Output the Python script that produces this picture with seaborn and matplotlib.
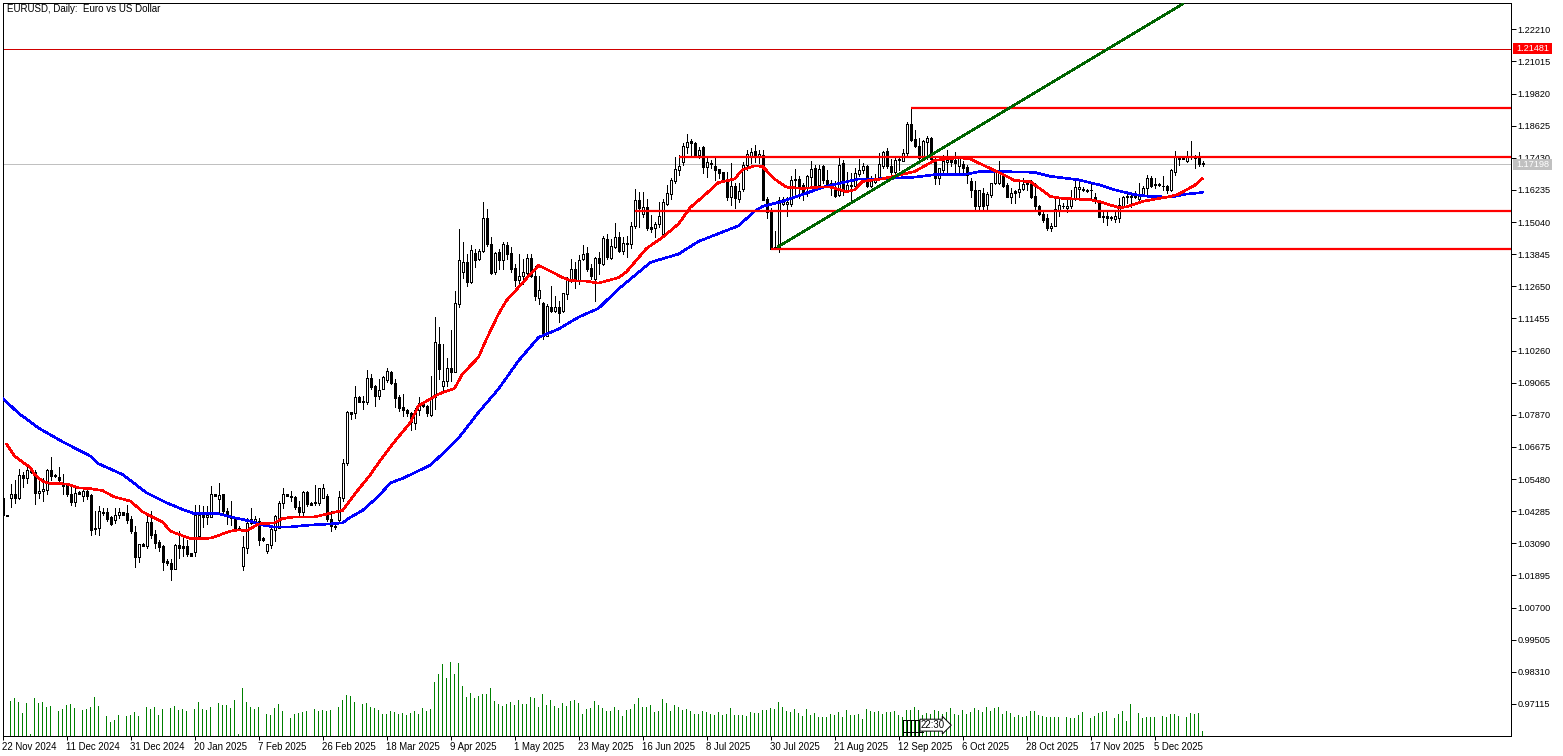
import numpy as np
import matplotlib
matplotlib.use("Agg")
import matplotlib.pyplot as plt
from matplotlib.patches import Rectangle
import seaborn as sns

# Prices in pips (1 pip = 0.0001), one entry per daily bar
open_pips = [
10478,10415,10476,10491,10478,10563,10550,10577,10575,10497,
10505,10509,10581,10564,10555,10530,10525,10493,10463,10499,
10483,10505,10488,10363,10364,10427,10425,10406,10396,10416,
10424,10421,10398,10352,10259,10307,10298,10388,10342,10314,
10298,10243,10235,10214,10301,10298,10297,10271,10277,10336,
10414,10406,10406,10493,10474,10491,10429,10404,10404,10367,
10225,10292,10401,10391,10391,10327,10280,10302,10360,10367,
10460,10491,10484,10481,10445,10425,10499,10458,10462,10457,
10478,10484,10401,10375,10396,10478,10607,10796,10794,10852,
10838,10836,10923,10893,10856,10883,10915,10945,10905,10852,
10815,10804,10794,10757,10804,10830,10821,10786,10852,11050,
10895,10913,10960,10947,11200,11319,11354,11282,11389,11367,
11396,11518,11422,11317,11394,11364,11420,11389,11332,11290,
11305,11315,11369,11302,11223,11202,11079,11187,11174,11187,
11174,11238,11290,11328,11290,11367,11389,11332,11292,11369,
11348,11441,11369,11410,11447,11395,11425,11422,11488,11585,
11534,11561,11484,11481,11497,11460,11572,11609,11658,11696,
11729,11782,11805,11797,11754,11782,11708,11723,11713,11700,
11689,11661,11596,11638,11591,11626,11717,11750,11769,11748,
11754,11589,11550,11403,11411,11572,11572,11572,11659,11664,
11642,11634,11671,11705,11643,11713,11661,11651,11634,11606,
11723,11622,11643,11639,11684,11696,11713,11637,11654,11668,
11711,11767,11711,11692,11738,11730,11761,11870,11813,11788,
11742,11800,11816,11738,11668,11696,11726,11736,11736,11711,
11721,11707,11655,11624,11562,11612,11568,11606,11649,11649,
11674,11642,11599,11618,11617,11627,11644,11649,11602,11565,
11535,11519,11480,11488,11550,11565,11555,11562,11592,11627,
11627,11624,11622,11599,11575,11527,11525,11521,11515,11519,
11565,11597,11602,11602,11589,11606,11630,11668,11644,11644,
11639,11639,11622,11692,11738,11742,11730,11751,11748,11742,11723]

close_pips = [
10414,10411,10491,10478,10563,10550,10580,10574,10497,10505,
10512,10580,10560,10560,10545,10523,10491,10462,10496,10494,
10505,10486,10360,10365,10429,10421,10399,10381,10416,10424,
10416,10396,10354,10257,10305,10300,10388,10339,10311,10295,
10240,10236,10214,10301,10292,10292,10270,10262,10414,10414,
10406,10414,10491,10486,10487,10429,10410,10410,10364,10360,
10295,10385,10385,10401,10323,10322,10305,10363,10410,10458,
10491,10486,10481,10445,10425,10500,10456,10453,10457,10513,
10515,10400,10372,10369,10481,10606,10796,10791,10852,10836,
10833,10923,10892,10856,10879,10926,10950,10905,10851,10814,
10806,10794,10759,10805,10830,10821,10794,10852,11057,10957,
10913,10960,10947,11202,11362,11354,11282,11401,11363,11395,
11518,11422,11315,11389,11364,11422,11385,11329,11290,11302,
11317,11369,11302,11228,11251,11081,11190,11174,11187,11166,
11240,11288,11328,11286,11364,11385,11329,11305,11369,11352,
11443,11373,11416,11447,11398,11425,11422,11491,11585,11555,
11561,11481,11478,11497,11525,11577,11611,11661,11700,11713,
11787,11803,11797,11754,11771,11708,11727,11720,11698,11688,
11661,11596,11638,11593,11619,11717,11756,11766,11750,11756,
11587,11540,11403,11413,11587,11589,11577,11661,11664,11634,
11612,11674,11702,11643,11701,11659,11639,11634,11602,11717,
11624,11643,11639,11686,11699,11711,11639,11655,11668,11721,
11764,11711,11692,11736,11736,11761,11870,11810,11788,11742,
11805,11816,11738,11668,11705,11730,11736,11728,11723,11742,
11705,11680,11624,11565,11622,11565,11608,11649,11692,11692,
11639,11599,11612,11612,11627,11647,11649,11599,11565,11535,
11513,11482,11490,11552,11568,11562,11565,11593,11634,11634,
11622,11619,11624,11587,11523,11523,11519,11518,11525,11568,
11599,11602,11599,11599,11609,11630,11668,11639,11642,11642,
11637,11624,11696,11746,11743,11738,11751,11746,11742,11721,11720]

high_pips = [
10478,10416,10528,10543,10584,10575,10592,10584,10580,10540,
10553,10587,10629,10565,10592,10565,10530,10522,10515,10505,
10515,10515,10491,10429,10447,10441,10441,10409,10439,10441,
10425,10453,10410,10373,10307,10311,10410,10429,10360,10323,
10302,10249,10249,10305,10354,10338,10323,10272,10453,10453,
10447,10447,10522,10493,10532,10491,10441,10466,10406,10373,
10336,10404,10439,10410,10404,10332,10307,10373,10416,10466,
10513,10491,10503,10484,10466,10503,10503,10461,10525,10515,
10528,10491,10429,10379,10503,10621,10802,10799,10895,10856,
10858,10954,10939,10898,10920,10933,10961,10951,10920,10861,
10864,10809,10796,10811,10852,10833,10823,10933,11150,11112,
11050,10997,11104,11249,11478,11429,11385,11419,11404,11404,
11577,11553,11447,11391,11404,11431,11429,11410,11348,11385,
11367,11385,11385,11342,11302,11205,11199,11267,11230,11212,
11240,11301,11367,11354,11381,11419,11410,11348,11373,11394,
11453,11458,11441,11500,11466,11447,11453,11503,11627,11617,
11617,11590,11530,11503,11577,11590,11642,11667,11745,11754,
11797,11832,11812,11800,11785,11787,11748,11735,11741,11702,
11692,11692,11725,11648,11648,11729,11772,11779,11791,11772,
11773,11599,11556,11469,11597,11599,11599,11674,11701,11674,
11649,11680,11730,11717,11717,11717,11699,11661,11655,11742,
11736,11692,11686,11705,11738,11723,11717,11674,11684,11761,
11769,11779,11738,11742,11746,11775,11878,11924,11847,11816,
11808,11823,11820,11742,11705,11754,11773,11748,11764,11748,
11730,11717,11668,11655,11624,11630,11614,11651,11699,11732,
11680,11649,11630,11624,11655,11668,11661,11661,11649,11568,
11540,11535,11500,11593,11593,11575,11587,11624,11655,11661,
11634,11627,11649,11612,11587,11550,11544,11525,11540,11593,
11602,11612,11612,11618,11649,11639,11680,11676,11668,11651,
11674,11643,11701,11767,11746,11743,11767,11806,11754,11764,11732]

low_pips = [
10409,10409,10443,10460,10472,10519,10532,10571,10456,10476,
10466,10493,10543,10555,10533,10491,10484,10451,10447,10491,
10468,10472,10339,10342,10339,10416,10391,10377,10385,10404,
10414,10385,10348,10220,10240,10297,10292,10329,10292,10280,
10208,10228,10173,10214,10255,10261,10261,10261,10261,10336,
10369,10379,10406,10483,10422,10414,10379,10377,10357,10357,
10208,10274,10379,10373,10301,10317,10274,10292,10317,10364,
10441,10484,10466,10435,10410,10410,10447,10450,10453,10453,
10476,10391,10354,10363,10385,10468,10600,10771,10774,10833,
10809,10827,10883,10821,10846,10883,10908,10902,10815,10802,
10784,10784,10732,10734,10786,10815,10784,10781,10809,10920,
10880,10895,10914,10947,11187,11295,11267,11277,11336,11364,
11394,11416,11311,11311,11329,11329,11367,11317,11267,11274,
11274,11298,11298,11215,11199,11069,11079,11168,11171,11133,
11171,11218,11280,11260,11274,11364,11323,11292,11212,11311,
11344,11367,11367,11406,11394,11385,11373,11406,11483,11484,
11524,11476,11466,11447,11484,11456,11568,11589,11651,11679,
11717,11760,11751,11745,11741,11686,11673,11704,11661,11667,
11658,11586,11568,11555,11580,11621,11698,11723,11729,11723,
11585,11519,11403,11403,11391,11568,11527,11565,11609,11593,
11587,11602,11634,11630,11634,11649,11634,11606,11597,11602,
11606,11614,11581,11630,11674,11686,11634,11634,11649,11664,
11705,11705,11680,11684,11699,11730,11754,11804,11785,11736,
11738,11738,11723,11647,11647,11692,11692,11711,11686,11680,
11680,11649,11599,11550,11550,11550,11550,11599,11647,11647,
11634,11597,11575,11575,11599,11622,11624,11593,11550,11531,
11503,11475,11469,11488,11527,11556,11540,11556,11587,11589,
11618,11617,11587,11575,11523,11506,11494,11510,11503,11506,
11556,11575,11560,11593,11587,11606,11606,11634,11630,11637,
11622,11612,11618,11680,11717,11737,11726,11738,11705,11713,11713]

volume = [
0,0,103,112,100,67,97,4,112,97,100,85,88,0,73,79,91,94,82,0,
76,79,85,115,88,0,58,40,46,61,0,58,61,70,58,0,85,79,85,61,
79,0,82,88,76,79,73,0,79,100,79,76,85,0,97,91,91,82,106,4,
142,100,85,79,85,0,64,61,82,94,73,0,52,64,67,70,73,0,79,73,
76,73,76,0,85,106,121,118,100,0,94,97,85,82,76,64,64,73,70,64,
67,61,67,73,64,82,73,79,160,184,214,172,220,184,217,148,115,127,112,118,
124,124,142,103,94,88,94,100,91,106,94,94,115,112,85,124,91,106,88,82,
97,88,103,106,97,64,79,82,103,91,82,73,73,85,76,58,76,79,94,112,
85,85,91,70,73,109,97,73,91,85,76,79,73,64,64,73,70,64,61,70,
61,64,82,61,61,61,58,70,67,67,76,76,82,79,100,85,73,70,79,67,
58,79,61,67,55,55,55,64,61,70,55,76,61,61,64,49,79,73,70,73,
64,70,70,73,61,55,76,76,85,76,61,67,64,76,73,64,70,82,64,61,
76,64,70,82,76,70,85,73,82,85,64,73,67,55,61,55,58,73,73,61,
58,55,55,55,55,0,55,52,52,61,70,0,52,58,67,70,73,0,52,64,
73,43,94,0,67,52,55,55,55,0,58,55,64,64,58,0,55,67,64,67,13]

red_bar = [1,3,7,8,10,12,16,19,22,25,28,32,35,40,42,47,52,57,59,61,64,68,70,73,78,82,85,88,92,94,98,
           102,104,107,109,113,115,119,121,124,126,129,132,134,135,140,142,146,149,154,156,161,165,169,
           172,175,179,183,185,188,190,193,196,200,204,207,211,213,215,220,228,233,239,242,249,253,257,
           262,265,272,274,279,281,285,292,294,298,300]
red_pips = [10679,10633,10590,10565,10540,10531,10530,10515,10512,10505,10481,10466,10426,10388,10354,10326,10328,10354,10359,10355,10381,10385,10401,10407,10407,10421,10431,10491,10565,10608,10687,
            10759,10821,10846,10864,10885,10939,11001,11069,11162,11212,11261,11311,11342,11336,11298,11286,11284,11277,11297,11319,11406,11447,11497,
            11559,11597,11651,11664,11699,11713,11711,11664,11634,11629,11634,11634,11617,11624,11655,11665,11692,11733,11744,11738,11689,11659,11654,
            11599,11592,11587,11581,11558,11560,11581,11599,11608,11640,11666]

blue_bar = [0,4,9,15,22,24,30,36,41,45,48,54,58,62,65,68,72,77,82,85,87,90,94,97,100,107,112,114,119,124,129,134,139,144,149,154,162,169,174,
            184,188,190,195,199,206,214,220,228,233,241,244,249,258,262,269,274,278,283,287,292,296,300]
blue_pips = [10849,10793,10738,10687,10633,10605,10565,10497,10460,10435,10419,10419,10404,10391,10377,10369,10370,10377,10381,10385,10406,10431,10484,10534,10550,10600,10670,10700,10796,10883,10988,11075,11106,11150,11183,11255,11354,11385,11432,
             11490,11544,11562,11581,11602,11637,11664,11665,11671,11680,11682,11691,11692,11689,11674,11661,11643,11624,11606,11599,11597,11608,11614]

level_start_bar = [227, 169, 158, 192]
level_price = [1.1927, 1.1747, 1.1546, 1.1405]
trend_bar = [194, 295]
trend_price = [1.1413, 1.2315]
alert_price = 1.21481
last_price = 1.17198

tick_bars = list(range(0, 289, 16))
date_labels = ["22 Nov 2024","11 Dec 2024","31 Dec 2024","20 Jan 2025","7 Feb 2025","26 Feb 2025",
               "18 Mar 2025","9 Apr 2025","1 May 2025","23 May 2025","16 Jun 2025","8 Jul 2025",
               "30 Jul 2025","21 Aug 2025","12 Sep 2025","6 Oct 2025","28 Oct 2025","17 Nov 2025","5 Dec 2025"]
price_ticks = [1.22210 - k * 0.01195 for k in range(22)]

sns.set_theme(style="ticks")
FONT = ["Liberation Sans", "DejaVu Sans"]
plt.rcParams["font.family"] = FONT

O = np.array(open_pips) / 1e4
C = np.array(close_pips) / 1e4
H = np.array(high_pips) / 1e4
L = np.array(low_pips) / 1e4
bars = np.arange(len(O))

W, Hpx = 1563, 756
fig = plt.figure(figsize=(W / 100, Hpx / 100), dpi=100, facecolor="white")
rect = [2.5 / W, (Hpx - 735.5) / Hpx, 1508 / W, 733 / Hpx]
ax = fig.add_axes(rect)
ax.set_facecolor("white")
ax.set_xlim(0, 377)
ax.set_ylim(0.95939, 1.23207)

# thin price lines
ax.axhline(alert_price, color="#d00000", lw=0.72, antialiased=False, zorder=1)
ax.axhline(last_price, color="#c0c0c0", lw=0.72, antialiased=False, zorder=1)

# candles
ax.vlines(bars, L, H, color="black", lw=0.72, antialiased=False, zorder=2)
is_up = C >= O
ax.bar(bars, np.abs(C - O), bottom=np.minimum(O, C), width=0.5,
       color=np.where(is_up, "white", "black"), edgecolor="black", linewidth=0.72,
       antialiased=False, zorder=3)

# level lines
for b, p in zip(level_start_bar, level_price):
    ax.hlines(p, b, 377, color="red", lw=1.6, antialiased=True, zorder=6)

# moving averages and trend line
line_kw = dict(linewidth=1.15, estimator=None, sort=False, legend=False, antialiased=False)
sns.lineplot(x=np.array(blue_bar), y=np.array(blue_pips) / 1e4, ax=ax, color="#0000ff", zorder=4, **line_kw)
sns.lineplot(x=np.array(red_bar), y=np.array(red_pips) / 1e4, ax=ax, color="#ff0000", zorder=5, **line_kw)
sns.lineplot(x=np.array(trend_bar), y=np.array(trend_price), ax=ax, color="#006400", zorder=7, **line_kw)

ax.set_xlim(0, 377)
ax.set_ylim(0.95939, 1.23207)
ax.set_xlabel("")
ax.set_ylabel("")

ax.yaxis.tick_right()
ax.set_yticks(price_ticks)
ax.set_yticklabels([f"{p:.5f}" for p in price_ticks])
ax.set_xticks(tick_bars)
ax.set_xticklabels(date_labels, ha="left")
ax.tick_params(axis="y", length=3.6, width=0.72, pad=1.5, labelsize=6.6, colors="black")
ax.tick_params(axis="x", length=3.2, width=0.72, pad=1.5, labelsize=6.9, colors="black")
for side in ["left", "right", "top", "bottom"]:
    ax.spines[side].set_visible(True)
    ax.spines[side].set_linewidth(0.72)
    ax.spines[side].set_color("black")

ax.text(0.003, 0.9905, "EURUSD, Daily:  Euro vs US Dollar", transform=ax.transAxes,
        fontsize=7.0, color="black", va="center", ha="left")

# price tags on the right scale
ytrans = ax.get_yaxis_transform()
for price, col in [(alert_price, "#ff0000"), (last_price, "#c0c0c0")]:
    ax.add_patch(Rectangle((1.0015, price - 0.00205), 0.0262, 0.0041, transform=ytrans,
                           facecolor=col, edgecolor="none", clip_on=False, zorder=20))
    ax.text(1.0146, price, f"{price:.5f}", transform=ytrans, color="white", fontsize=6.6,
            ha="center", va="center", clip_on=False, zorder=21)

# volume pane on its own overlay axes, same x scale
ax2 = fig.add_axes(rect, sharex=ax)
ax2.set_ylim(0, 2199)
ax2.patch.set_visible(False)
ax2.axis("off")
ax2.bar(bars, volume, width=0.25, color="#008000", linewidth=0, zorder=2)

# chart-shift marker with its time label
ax2.vlines([225, 226, 227, 228, 229], 0, 48, color="black", lw=0.72, linestyles=(0, (1, 1)),
           antialiased=False, zorder=3)
ax2.hlines([48, 11], 225, 230, color="black", lw=0.72, antialiased=False, zorder=3)
ax2.text(229.6, 31, "22:30", fontsize=6.9, color="black", ha="left", va="center", zorder=5,
         bbox=dict(boxstyle="rarrow,pad=0.1", fc="white", ec="black", lw=0.72))

fig.savefig("out.png", dpi=100, facecolor="white")
